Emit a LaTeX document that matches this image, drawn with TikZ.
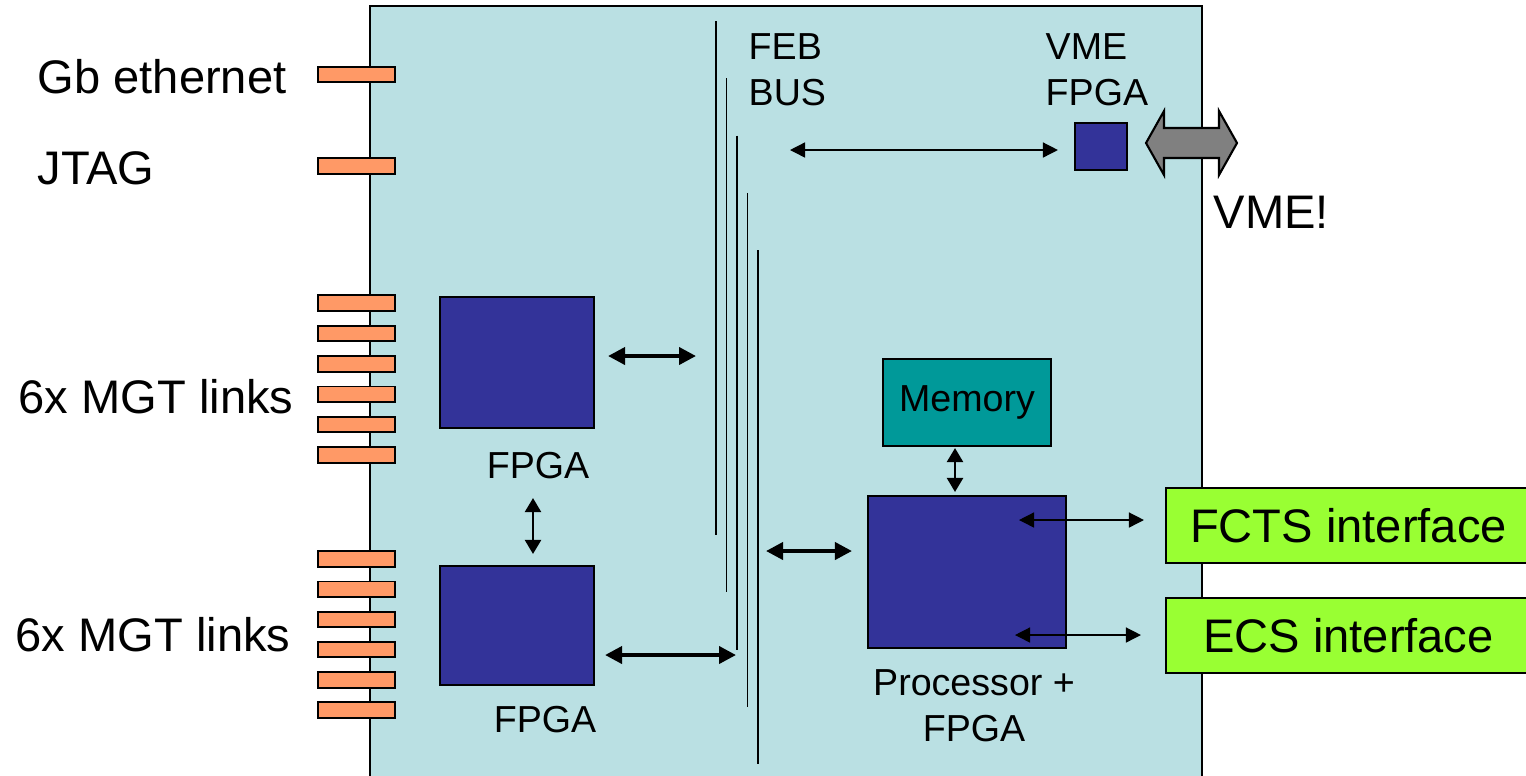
\documentclass[tikz,border=0pt]{standalone}
\usepackage{fontspec}
\setmainfont{Liberation Sans}
\usetikzlibrary{arrows.meta}

\definecolor{boardblue}{RGB}{186,224,227}
\definecolor{chipblue}{RGB}{51,51,153}
\definecolor{memteal}{RGB}{0,153,153}
\definecolor{portorange}{RGB}{255,153,102}
\definecolor{ifgreen}{RGB}{153,255,51}

\begin{document}
\begin{tikzpicture}[x=0.1mm, y=-0.1mm,
    chip/.style={draw, line width=0.6pt, fill=chipblue, inner sep=0pt},
    port/.style={draw, line width=0.55pt, fill=portorange, inner sep=0pt,
        minimum width=7.7mm, minimum height=1.55mm},
    iface/.style={draw, line width=0.6pt, fill=ifgreen, inner sep=0pt,
        minimum width=36.5mm, minimum height=7.5mm, font=\fontsize{13.4}{16}\selectfont},
    biglabel/.style={inner sep=0pt, font=\fontsize{13.4}{16}\selectfont},
    smalllabel/.style={inner sep=0pt, font=\fontsize{10.7}{13.1}\selectfont},
    busline/.style={line width=0.45pt},
    thinarrow/.style={{Triangle[length=1.5mm,width=1.5mm]}-{Triangle[length=1.5mm,width=1.5mm]}, line width=0.4pt},
    midarrow/.style={{Triangle[length=1.4mm,width=1.6mm]}-{Triangle[length=1.4mm,width=1.6mm]}, line width=0.65pt},
    bigarrow/.style={{Triangle[length=1.7mm,width=1.7mm]}-{Triangle[length=1.7mm,width=1.7mm]}, line width=1.1pt}
]
    \useasboundingbox (0,0) rectangle (1526,775);

    % Board
    \draw[fill=boardblue, line width=0.45pt] (370,6) rectangle (1202,800);

    % Front panel connectors
    \node[port] (gbport) at (356.5,74.5) {};
    \node[port] (jtagport) at (356.5,166) {};
    \foreach \i in {0,...,5} {
        \node[port] (mgtA\i) at (356.5, 303+30.4*\i) {};
        \node[port] (mgtB\i) at (356.5, 559+30.2*\i) {};
    }
    \node[biglabel, anchor=base west] (gblabel) at (37,93) {Gb ethernet};
    \node[biglabel, anchor=base west] (jtaglabel) at (37,184) {JTAG};
    \node[biglabel, anchor=base west] (mgtlabelA) at (18,413) {6x MGT links};
    \node[biglabel, anchor=base west] (mgtlabelB) at (15,651) {6x MGT links};

    % FEB bus
    \foreach \i in {0,...,4}
        \draw[busline] (716+10.5*\i, 21+57.25*\i) -- ++(0,514);
    \node[smalllabel, anchor=north west, align=left] (feblabel) at (748,33) {FEB\\BUS};

    % Chips
    \node[chip, minimum width=15.4mm, minimum height=13.1mm] (fpgaA) at (517,362.5) {};
    \node[chip, minimum width=15.4mm, minimum height=11.9mm] (fpgaB) at (517,625.5) {};
    \node[chip, minimum width=19.8mm, minimum height=15.2mm] (proc) at (967,572) {};
    \node[chip, fill=memteal, minimum width=16.8mm, minimum height=8.7mm,
        font=\fontsize{10.7}{13.1}\selectfont] (mem) at (967,402.5) {Memory};
    \node[chip, minimum width=5.2mm, minimum height=4.7mm] (vmefpga) at (1101,146.5) {};
    \node[smalllabel, anchor=base] (fpgalabelA) at (538,478) {FPGA};
    \node[smalllabel, anchor=base] (fpgalabelB) at (545,732) {FPGA};
    \node[smalllabel, anchor=north, align=center] (proclabel) at (974,669) {Processor +\\FPGA};
    \node[smalllabel, anchor=north west, align=left] (vmefpgalabel) at (1045,33) {VME\\FPGA};

    % Interfaces
    \node[iface] (fcts) at (1348.5,525.5) {FCTS interface};
    \node[iface] (ecs) at (1348.5,635.5) {ECS interface};

    % VME backplane arrow
    \draw[fill=gray, line width=0.6pt] (1146,143) -- (1164,111) -- (1164,128) -- (1219,128)
        -- (1219,111) -- (1237,143) -- (1219,175) -- (1219,158) -- (1164,158)
        -- (1164,175) -- cycle;
    \node[biglabel, anchor=base west] (vmelabel) at (1213,228) {VME!};

    % Links
    \coordinate (febA) at (696,356);
    \coordinate (febB) at (736,655);
    \coordinate (febC) at (766,551);
    \coordinate (febD) at (790,150);
    \coordinate (fctsport) at (1019,520);
    \coordinate (ecsport) at (1015,635);
    \draw[bigarrow, shorten <=1.3mm] (fpgaA.east |- febA) -- (febA);
    \draw[bigarrow, shorten <=1mm] (fpgaB.east |- febB) -- (febB);
    \draw[bigarrow, shorten >=1.5mm] (febC) -- (febC -| proc.west);
    \draw[thinarrow, shorten >=1.6mm] (febD) -- (febD -| vmefpga.west);
    \draw[midarrow, shorten <=6.9mm, shorten >=1.1mm] ([xshift=1.6mm]fpgaA.south) -- ([xshift=1.6mm]fpgaB.north);
    \draw[midarrow, shorten <=0.1mm, shorten >=0.3mm] ([xshift=-1.2mm]mem.south) -- ([xshift=-1.2mm]proc.north);
    \draw[thinarrow, shorten >=2.1mm] (fctsport) -- (fctsport -| fcts.west);
    \draw[thinarrow, shorten >=2.4mm] (ecsport) -- (ecsport -| ecs.west);

\end{tikzpicture}
\end{document}
